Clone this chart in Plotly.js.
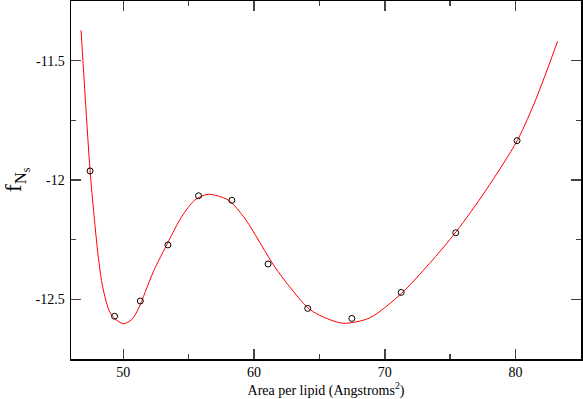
<!DOCTYPE html>
<html>
<head>
<meta charset="utf-8">
<script src="https://cdn.plot.ly/plotly-3.0.1.min.js"></script>
<style>
  html, body { margin: 0; padding: 0; background: #fff; }
  #chart { width: 583px; height: 399px; }
</style>
</head>
<body>
<div id="chart"></div>
<script>
// measured points (area per lipid vs f_Ns)
const areaPts = [47.46, 49.33, 51.30, 53.41, 55.75, 58.30, 61.07, 64.10, 67.48, 71.25, 75.42, 80.11];
const fPts = [-11.962, -12.571, -12.507, -12.272, -12.066, -12.085, -12.352, -12.538, -12.580, -12.471, -12.221, -11.835];

// fitted curve
const fitArea = [46.77, 47.10, 47.46, 47.76, 48.07, 48.37, 48.68, 48.98, 49.37, 50.00, 50.64, 51.15, 52.29,
                 53.44, 54.46, 55.47, 56.49, 58.02, 59.29, 60.56, 61.58, 62.73, 64.10, 65.02, 66.79,
                 68.83, 71.25, 73.41, 75.45, 77.74, 80.15, 81.56, 83.21];
const fitF = [-11.373, -11.664, -11.962, -12.147, -12.315, -12.433, -12.508, -12.555, -12.582, -12.602, -12.585,
              -12.540, -12.385, -12.259, -12.154, -12.084, -12.060, -12.084, -12.161, -12.273, -12.364,
              -12.448, -12.535, -12.567, -12.600, -12.578, -12.476, -12.350, -12.217, -12.042, -11.832,
              -11.660, -11.419];

const serif = "'Liberation Serif', serif";

const fitTrace = {
    x: fitArea, y: fitF, type: 'scatter', mode: 'lines',
    line: {color: '#ff0000', width: 1, shape: 'spline', smoothing: 0.8},
    hoverinfo: 'skip'
};
const ptTrace = {
    x: areaPts, y: fPts, type: 'scatter', mode: 'markers',
    marker: {symbol: 'circle-open', size: 6, color: '#000', line: {width: 1, color: '#000'}}
};

const axisBase = {
    showgrid: false, zeroline: false,
    showline: true, linecolor: '#000', linewidth: 1.5,
    mirror: 'allticks', ticks: 'inside', ticklen: 10, tickwidth: 1.5, tickcolor: '#444',
    tickfont: {family: serif, size: 14, color: '#000'}
};

const layout = {
    width: 583, height: 399,
    margin: {l: 71, r: 2, t: 1, b: 40},
    paper_bgcolor: '#fff', plot_bgcolor: '#fff',
    font: {family: serif, size: 14, color: '#000'},
    showlegend: false,
    xaxis: Object.assign({}, axisBase, {
        range: [46, 85], tickvals: [50, 60, 70, 80],
        minor: {tickvals: [55, 65, 75], ticks: 'inside', ticklen: 5, tickwidth: 1.5, tickcolor: '#444'},
        title: {text: 'Area per lipid (Angstroms<sup>2</sup>)', font: {family: serif, size: 14, color: '#000'}, standoff: 6}
    }),
    yaxis: Object.assign({}, axisBase, {
        range: [-12.75, -11.25], tickvals: [-12.5, -12, -11.5], ticktext: ['-12.5', '-12', '-11.5'],
        minor: {tickvals: [-12.25, -11.75], ticks: 'inside', ticklen: 5, tickwidth: 1.5, tickcolor: '#444'},
        ticklabelstandoff: 2,
        title: {text: 'f<sub>N<sub>s</sub></sub>', font: {family: serif, size: 24, color: '#000'}, standoff: 12}
    })
};

Plotly.newPlot('chart', [fitTrace, ptTrace], layout, {displayModeBar: false, staticPlot: true});
</script>
</body>
</html>
